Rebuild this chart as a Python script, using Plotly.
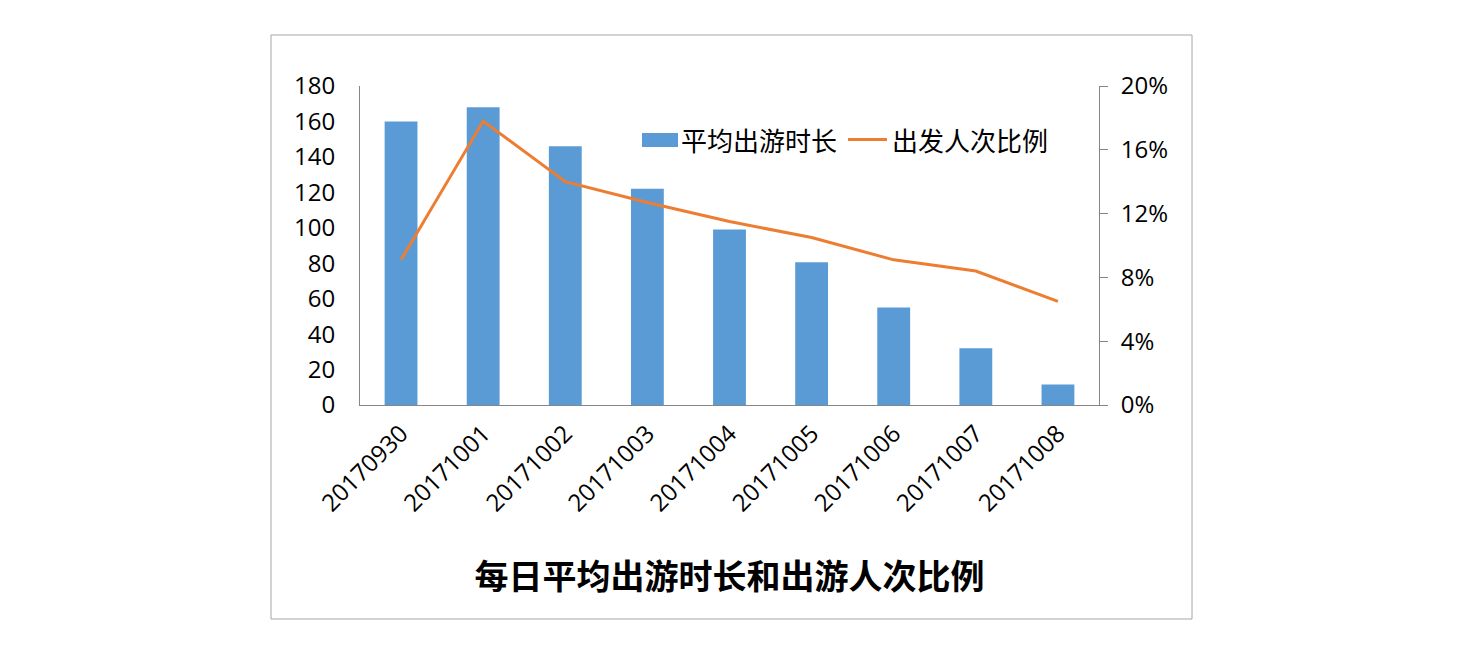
import plotly.graph_objects as go

dates = ["20170930", "20171001", "20171002", "20171003", "20171004",
         "20171005", "20171006", "20171007", "20171008"]
avg_duration = [160, 168, 146, 122, 99, 80.5, 55, 32, 11.5]
trip_share = [0.091, 0.178, 0.140, 0.127, 0.115, 0.105, 0.091, 0.084, 0.065]

bar_name = "平均出游时长"
line_name = "出发人次比例"
title_text = "每日平均出游时长和出游人次比例"

BAR_COLOR = "#5B9BD5"
LINE_COLOR = "#ED7D31"

# page body has an 8px margin, so the figure sits at (8, 8) in the window
OFF = 8
W, H = 1458 - 2 * OFF, 646 - 2 * OFF
PL, PR, PT, PB = 360 - OFF, 1099 - OFF, 86 - OFF, 405 - OFF  # plot area, figure px


def px_to_paper(x, y):
    # x, y given in window pixels
    x, y = x - OFF, y - OFF
    return (x - PL) / (PR - PL), (PB - y) / (PB - PT)


FONT = "Open Sans, Noto Sans CJK SC, sans-serif"
AXIS_GRAY = "#868686"

fig = go.Figure()

fig.add_trace(go.Bar(
    x=dates,
    y=avg_duration,
    name=bar_name,
    marker=dict(color=BAR_COLOR, line=dict(width=0)),
    yaxis="y",
    showlegend=False,
))

fig.add_trace(go.Scatter(
    x=dates,
    y=trip_share,
    name=line_name,
    mode="lines",
    line=dict(color=LINE_COLOR, width=3),
    yaxis="y2",
    showlegend=False,
))

# chart border
bx0, by0 = px_to_paper(271, 619)
bx1, by1 = px_to_paper(1192, 35)
fig.add_shape(
    type="rect", xref="paper", yref="paper",
    x0=bx0, y0=by0, x1=bx1, y1=by1,
    line=dict(color="#A6A6A6", width=1),
    fillcolor="rgba(0,0,0,0)",
    layer="below",
)

# legend drawn by hand (Excel-style wide swatch)
sx0, sy0 = px_to_paper(642, 147)
sx1, sy1 = px_to_paper(678, 133)
fig.add_shape(
    type="rect", xref="paper", yref="paper",
    x0=sx0, y0=sy0, x1=sx1, y1=sy1,
    fillcolor=BAR_COLOR, line=dict(width=0),
)
lx0, ly0 = px_to_paper(848, 139.5)
lx1, _ = px_to_paper(887, 139.5)
fig.add_shape(
    type="line", xref="paper", yref="paper",
    x0=lx0, y0=ly0, x1=lx1, y1=ly0,
    line=dict(color=LINE_COLOR, width=3),
)
for name, xpx in [(bar_name, 679), (line_name, 890)]:
    ax, ay = px_to_paper(xpx, 141)
    fig.add_annotation(
        xref="paper", yref="paper", x=ax, y=ay,
        text=name, showarrow=False,
        xanchor="left", yanchor="middle",
        font=dict(size=26, family=FONT, color="#000000"),
    )

fig.update_layout(
    width=W,
    height=H,
    margin=dict(l=PL, r=W - PR, t=PT, b=H - PB, autoexpand=False),
    plot_bgcolor="white",
    paper_bgcolor="white",
    font=dict(family=FONT, size=24, color="#000000"),
    bargap=0.6,
    title=dict(
        text=f"<b>{title_text}</b>",
        x=0.5, xref="paper", xanchor="center",
        y=1 - (577 - OFF) / H, yref="container", yanchor="middle",
        font=dict(size=34, family="Noto Sans CJK SC", color="#000000"),
    ),
    xaxis=dict(
        type="category",
        tickangle=-45,
        showline=True,
        linecolor=AXIS_GRAY,
        linewidth=1,
        ticks="",
        showgrid=False,
        tickfont=dict(size=24),
        ticklabelstandoff=4,
    ),
    yaxis=dict(
        range=[0, 180],
        dtick=20,
        showline=True,
        linecolor=AXIS_GRAY,
        linewidth=1,
        ticks="",
        showgrid=False,
        zeroline=False,
        tickfont=dict(size=24),
        ticklabelstandoff=19,
    ),
    yaxis2=dict(
        range=[0, 0.2],
        dtick=0.04,
        tickformat=".0%",
        overlaying="y",
        side="right",
        showline=True,
        linecolor=AXIS_GRAY,
        linewidth=1,
        ticks="outside",
        ticklen=8,
        tickcolor=AXIS_GRAY,
        showgrid=False,
        zeroline=False,
        tickfont=dict(size=24),
        ticklabelstandoff=8,
    ),
)

fig.write_html("out.html")
